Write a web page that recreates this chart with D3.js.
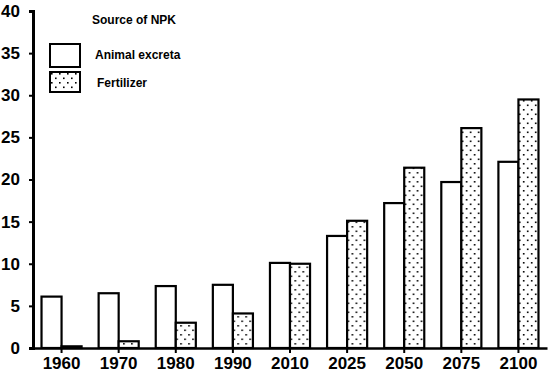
<!DOCTYPE html>
<html>
<head>
<meta charset="utf-8">
<script src="https://cdn.jsdelivr.net/npm/d3@7"></script>
<style>
  body { margin: 0; background: #fff; }
  svg { display: block; font-family: "Liberation Sans", Arial, sans-serif; }
</style>
</head>
<body>
<div id="container"></div>
<script>
/* DATA */
const years = ["1960", "1970", "1980", "1990", "2010", "2025", "2050", "2075", "2100"];
const series = ["Animal excreta", "Fertilizer"];
const animalExcreta = [6.1, 6.5, 7.35, 7.5, 10.1, 13.3, 17.2, 19.7, 22.1];
const fertilizer = [0.2, 0.8, 3.0, 4.1, 10.0, 15.1, 21.4, 26.1, 29.5];
const yTicks = [0, 5, 10, 15, 20, 25, 30, 35, 40];

/* CONSTANTS */
const width = 550,
  height = 376,
  margin = { top: 11, bottom: 28, left: 33, right: 3 };

const svg = d3.select("#container")
  .append("svg")
  .attr("width", width)
  .attr("height", height);

// dotted fill
const defs = svg.append("defs");
const pat = defs.append("pattern")
  .attr("id", "dots")
  .attr("patternUnits", "userSpaceOnUse")
  .attr("width", 8)
  .attr("height", 9);
pat.append("rect").attr("width", 8).attr("height", 9).attr("fill", "#fff");
pat.append("rect").attr("x", 1).attr("y", 1).attr("width", 1.6).attr("height", 1.6).attr("fill", "#000");
pat.append("rect").attr("x", 5).attr("y", 5.5).attr("width", 1.6).attr("height", 1.6).attr("fill", "#000");

/* SCALES */
const x = d3.scaleBand()
  .domain(years)
  .range([margin.left, width - margin.right])
  .padding(0);

const x1 = d3.scaleBand()
  .domain(series)
  .range([0, x.bandwidth()])
  .paddingInner(0)
  .paddingOuter(0.425);

const y = d3.scaleLinear()
  .domain([0, 40])
  .range([height - margin.bottom, margin.top]);

const fills = { "Animal excreta": "#fff", "Fertilizer": "url(#dots)" };

const rows = years.map((yr, i) => ({
  year: yr,
  values: [
    { key: series[0], value: animalExcreta[i] },
    { key: series[1], value: fertilizer[i] }
  ]
}));

/* BARS */
const groups = svg.selectAll(".grp")
  .data(rows)
  .join("g")
  .attr("class", "grp")
  .attr("transform", d => `translate(${x(d.year)},0)`);

groups.selectAll("rect")
  .data(d => d.values)
  .join("rect")
  .attr("x", d => x1(d.key))
  .attr("y", d => y(d.value))
  .attr("width", x1.bandwidth())
  .attr("height", d => y(0) - y(d.value))
  .attr("fill", d => fills[d.key])
  .attr("stroke", "#000")
  .attr("stroke-width", 2.2);

/* AXES */
const tickFont = "'Liberation Sans Narrow', 'Liberation Sans', Arial, sans-serif";

const yAxis = d3.axisLeft(y)
  .tickValues(yTicks)
  .tickSize(4)
  .tickPadding(9);
const gy = svg.append("g")
  .attr("transform", `translate(${margin.left},0)`)
  .call(yAxis);
gy.select(".domain").attr("stroke-width", 3);
gy.selectAll(".tick line").attr("stroke-width", 2);
gy.selectAll("text")
  .attr("font-family", tickFont)
  .attr("font-size", 17)
  .attr("font-weight", "bold")
  .attr("fill", "#000");

const xAxis = d3.axisBottom(x)
  .tickSize(5)
  .tickSizeOuter(0)
  .tickPadding(4);
const gx = svg.append("g")
  .attr("transform", `translate(0,${height - margin.bottom})`)
  .call(xAxis);
gx.select(".domain").attr("stroke-width", 2.5);
gx.selectAll(".tick line").attr("stroke-width", 2);
gx.selectAll("text")
  .attr("font-family", tickFont)
  .attr("font-size", 17)
  .attr("font-weight", "bold")
  .attr("fill", "#000");

/* LEGEND */
const legend = svg.append("g");
legend.append("text")
  .attr("x", 92)
  .attr("y", 24)
  .attr("font-size", 12)
  .attr("font-weight", "bold")
  .text("Source of NPK");

const li = legend.selectAll(".li")
  .data(series)
  .join("g")
  .attr("class", "li")
  .attr("transform", (d, i) => `translate(50,${44 + i * 28})`);

li.append("rect")
  .attr("width", 30)
  .attr("height", d => d === series[0] ? 23 : 20)
  .attr("fill", d => fills[d])
  .attr("stroke", "#000")
  .attr("stroke-width", 2);

li.append("text")
  .attr("x", (d, i) => 45 + i * 2)
  .attr("y", 15)
  .attr("font-size", 12)
  .attr("font-weight", "bold")
  .text(d => d);
</script>
</body>
</html>
